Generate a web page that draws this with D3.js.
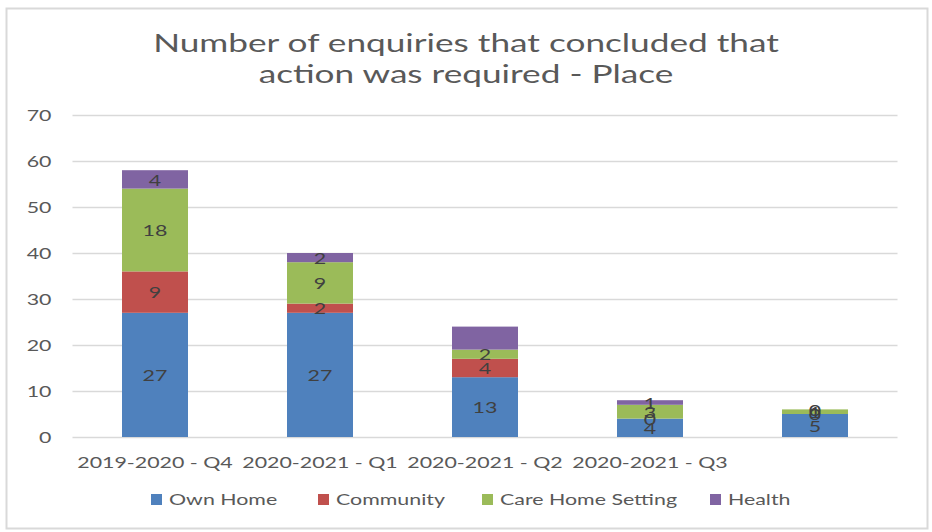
<!DOCTYPE html>
<html>
<head>
<meta charset="utf-8">
<script src="https://cdn.jsdelivr.net/npm/d3@7"></script>
<style>
  html, body { margin: 0; padding: 0; background: #fff; }
  svg { display: block; }
  text { font-family: Lato, "Open Sans", sans-serif; }
</style>
</head>
<body>
<svg id="chart" width="932" height="532"></svg>
<script>
// Quarters on the x axis (the last quarter has no label)
const categories = ["2019-2020 - Q4", "2020-2021 - Q1", "2020-2021 - Q2", "2020-2021 - Q3", ""];

// Enquiries where action was required, by place
const seriesNames = ["Own Home", "Community", "Care Home Setting", "Health"];
const ownHome      = [27, 27, 13, 4, 5];
const community    = [9, 2, 4, 0, 0];
const careHome     = [18, 9, 2, 3, 1];
const health       = [4, 2, 5, 1, 0];

// Data labels switched off for individual points: [series, category index]
const hiddenLabels = [["Health", 2]];

const yTicks = [0, 10, 20, 30, 40, 50, 60, 70];
const titleLines = ["Number of enquiries that concluded that", "action was required - Place"];

const colors = ["#4F81BD", "#C0504D", "#9BBB59", "#8064A2"];
const SX = 1.38; // horizontal text stretch

const seriesValues = [ownHome, community, careHome, health];
const rows = categories.map((c, i) => {
  const r = { cat: i };
  seriesNames.forEach((s, k) => { r[s] = seriesValues[k][i]; });
  return r;
});
const stacked = d3.stack().keys(seriesNames)(rows);

const svg = d3.select("#chart");

// outer chart border
svg.append("rect")
  .attr("x", 6.5).attr("y", 8.5).attr("width", 921).attr("height", 520)
  .attr("fill", "#fff").attr("stroke", "#D9D9D9").attr("stroke-width", 2);

const plot = { left: 72.5, right: 897.5, top: 115, bottom: 437 };

const x = d3.scaleBand()
  .domain(d3.range(categories.length))
  .range([plot.left, plot.right])
  .paddingInner(0.6)
  .paddingOuter(0.3);

const y = d3.scaleLinear().domain([0, 70]).range([plot.bottom, plot.top]);

function stretch(sel) {
  sel.attr("transform", function () {
    const tx = +this.getAttribute("x") || 0;
    return `translate(${tx},0) scale(${SX},1) translate(${-tx},0)`;
  });
}

// gridlines + y axis labels
const yAxis = svg.append("g")
  .attr("transform", `translate(${plot.left},0)`)
  .call(d3.axisLeft(y).tickValues(yTicks).tickSize(-(plot.right - plot.left)).tickPadding(21));
yAxis.select(".domain").remove();
yAxis.selectAll(".tick line").attr("stroke", "#D9D9D9").attr("stroke-width", 1.5);
yAxis.selectAll(".tick text")
  .attr("fill", "#595959").attr("font-size", 15.5).attr("dy", "0.36em")
  .call(stretch);

// bars
const layers = svg.append("g").selectAll("g")
  .data(stacked).join("g")
  .attr("fill", (d, i) => colors[i]);

layers.selectAll("rect")
  .data(d => d).join("rect")
  .attr("x", (d, i) => x(i))
  .attr("width", x.bandwidth())
  .attr("y", d => y(d[1]))
  .attr("height", d => y(d[0]) - y(d[1]));

// data labels in the middle of each segment
const labelG = svg.append("g");
stacked.forEach(layer => {
  layer.forEach((d, i) => {
    if (hiddenLabels.some(h => h[0] === layer.key && h[1] === i)) return;
    labelG.append("text")
      .attr("x", x(i) + x.bandwidth() / 2)
      .attr("y", y((d[0] + d[1]) / 2))
      .attr("dy", "0.4em")
      .attr("text-anchor", "middle")
      .attr("font-size", 15.5)
      .attr("fill", "#404040")
      .text(d.data[layer.key])
      .call(stretch);
  });
});

// category labels
svg.append("g").selectAll("text")
  .data(categories).join("text")
  .attr("x", (d, i) => x(i) + x.bandwidth() / 2)
  .attr("y", 468)
  .attr("text-anchor", "middle")
  .attr("font-size", 15.5)
  .attr("fill", "#595959")
  .text(d => d)
  .call(stretch);

// title
svg.append("g").selectAll("text")
  .data(titleLines).join("text")
  .attr("x", 466)
  .attr("y", (d, i) => 52 + i * 31)
  .attr("text-anchor", "middle")
  .attr("font-size", 25.5)
  .attr("fill", "#595959")
  .text(d => d)
  .call(stretch);

// legend
const legendX = [151, 318, 482, 710];
const legend = svg.append("g").selectAll("g")
  .data(seriesNames).join("g");
legend.append("rect")
  .attr("x", (d, i) => legendX[i]).attr("y", 494)
  .attr("width", 11).attr("height", 11)
  .attr("fill", (d, i) => colors[i]);
legend.append("text")
  .attr("x", (d, i) => legendX[i] + 18)
  .attr("y", 505)
  .attr("font-size", 15.5)
  .attr("fill", "#595959")
  .text(d => d)
  .call(stretch);
</script>
</body>
</html>
